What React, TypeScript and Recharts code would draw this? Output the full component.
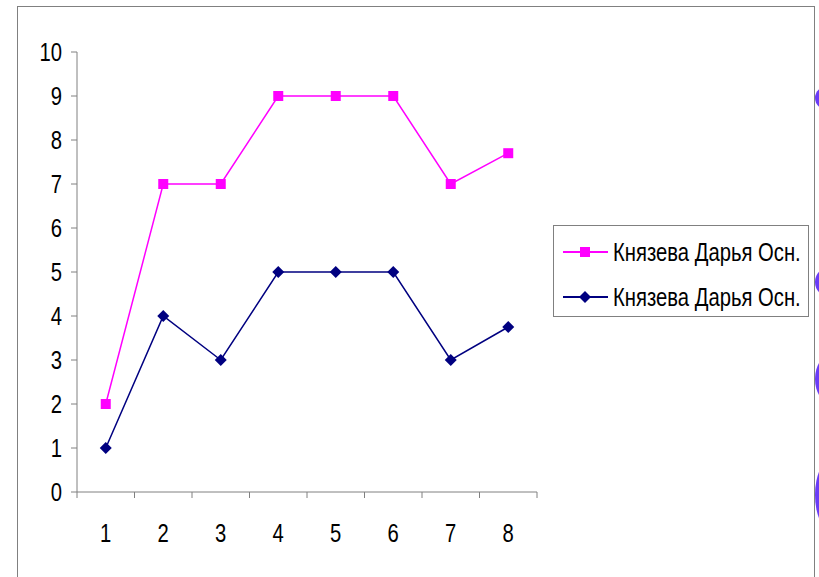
import React from "react";
import { LineChart, Line, XAxis, YAxis } from "recharts";

const categories = [1, 2, 3, 4, 5, 6, 7, 8];
const pinkValues = [2, 7, 7, 9, 9, 9, 7, 7.7];
const navyValues = [1, 4, 3, 5, 5, 5, 3, 3.75];
const yTicks = [0, 1, 2, 3, 4, 5, 6, 7, 8, 9, 10];
const seriesName = "Князева Дарья Осн.";

// tick marks sit between categories, labels at the categories
const xTicks = [...categories.flatMap((c) => [c - 0.5, c]), categories[categories.length - 1] + 0.5];

const data = categories.map((c, i) => ({
  x: c,
  pink: pinkValues[i],
  navy: navyValues[i],
}));

// no Arial Narrow here, so squeeze Liberation Sans horizontally
const FONT = "'Liberation Sans', Arial, sans-serif";
const FONT_SIZE = 25;
const SQUEEZE = 0.81;
const PINK = "#ff00ff";
const NAVY = "#000080";
const GRID = "#808080";
const DECOR = "#6a3cf8";

function SquareDot(props: any) {
  const { cx, cy } = props;
  if (cx == null || cy == null) return null;
  return <rect x={cx - 5} y={cy - 5} width={10} height={10} fill={PINK} />;
}

function DiamondDot(props: any) {
  const { cx, cy } = props;
  if (cx == null || cy == null) return null;
  return (
    <path
      d={`M${cx},${cy - 6} L${cx + 6},${cy} L${cx},${cy + 6} L${cx - 6},${cy} Z`}
      fill={NAVY}
    />
  );
}

function XTick(props: any) {
  const { x, y, payload } = props;
  const v = payload.value;
  if (!Number.isInteger(v)) {
    return <line x1={x} y1={y} x2={x} y2={y + 6} stroke={GRID} strokeWidth={1} />;
  }
  return (
    <text
      transform={`translate(${x},${y + 50}) scale(${SQUEEZE},1)`}
      textAnchor="middle"
      fill="#000"
      fontSize={FONT_SIZE}
      fontFamily={FONT}
    >
      {v}
    </text>
  );
}

function YTick(props: any) {
  const { x, y, payload } = props;
  return (
    <text
      transform={`translate(${x},${y + 9}) scale(${SQUEEZE},1)`}
      textAnchor="end"
      fill="#000"
      fontSize={FONT_SIZE}
      fontFamily={FONT}
    >
      {payload.value}
    </text>
  );
}

function LegendBox() {
  const rows = [
    { color: PINK, marker: "square" },
    { color: NAVY, marker: "diamond" },
  ];
  return (
    <div
      style={{
        position: "absolute",
        left: 553,
        top: 225,
        width: 256,
        height: 92,
        boxSizing: "border-box",
        border: `1px solid ${GRID}`,
        background: "#fff",
        paddingTop: 9,
      }}
    >
      {rows.map((r, i) => (
        <div key={i} style={{ display: "flex", alignItems: "center", height: 34, marginBottom: i === 0 ? 11 : 0 }}>
          <svg width={58} height={20} style={{ flex: "none" }}>
            <line x1={9} y1={10} x2={54} y2={10} stroke={r.color} strokeWidth={2} />
            {r.marker === "square" ? (
              <rect x={26} y={5} width={10} height={10} fill={r.color} />
            ) : (
              <path d="M31,4 L37,10 L31,16 L25,10 Z" fill={r.color} />
            )}
          </svg>
          <span
            style={{
              fontFamily: FONT,
              fontSize: FONT_SIZE,
              color: "#000",
              whiteSpace: "nowrap",
              marginLeft: 1,
              display: "inline-block",
              transform: `scaleX(${SQUEEZE})`,
              transformOrigin: "left center",
            }}
          >
            {seriesName}
          </span>
        </div>
      ))}
    </div>
  );
}

export default function App() {
  return (
    <div
      style={{
        position: "absolute",
        left: 0,
        top: 0,
        width: 819,
        height: 577,
        overflow: "hidden",
        background: "#fff",
      }}
    >
      <div
        style={{
          position: "absolute",
          left: 17,
          top: 6,
          width: 796,
          height: 580,
          borderTop: `1px solid ${GRID}`,
          borderLeft: `1px solid ${GRID}`,
          borderRight: `1px solid ${GRID}`,
        }}
      />
      {/* slide decoration peeking in at the right edge */}
      <svg width={819} height={577} style={{ position: "absolute", left: 0, top: 0 }}>
        <g fill={DECOR}>
          <ellipse cx={828} cy={98} rx={13} ry={12} />
          <ellipse cx={830} cy={282} rx={15} ry={15} />
          <ellipse cx={832} cy={379} rx={17} ry={25} />
          <ellipse cx={834} cy={495} rx={19} ry={38} />
        </g>
      </svg>
      <div style={{ position: "absolute", left: 0, top: 0 }}>
        <LineChart width={819} height={577} data={data} margin={{ top: 52, right: 282, left: 0, bottom: 0 }}>
          <XAxis
            dataKey="x"
            type="number"
            domain={[0.5, 8.5]}
            ticks={xTicks}
            interval={0}
            height={85}
            tickLine={false}
            tickSize={0}
            tickMargin={0}
            tick={<XTick />}
            axisLine={{ stroke: GRID, strokeWidth: 1 }}
          />
          <YAxis
            type="number"
            domain={[0, 10]}
            ticks={yTicks}
            interval={0}
            width={77}
            tickSize={6}
            tickMargin={9}
            tickLine={{ stroke: GRID }}
            axisLine={{ stroke: GRID, strokeWidth: 1 }}
            tick={<YTick />}
          />
          <Line
            type="linear"
            dataKey="pink"
            name={seriesName}
            stroke={PINK}
            strokeWidth={1.5}
            dot={<SquareDot />}
            activeDot={false}
            isAnimationActive={false}
          />
          <Line
            type="linear"
            dataKey="navy"
            name={seriesName}
            stroke={NAVY}
            strokeWidth={1.5}
            dot={<DiamondDot />}
            activeDot={false}
            isAnimationActive={false}
          />
        </LineChart>
      </div>
      <LegendBox />
    </div>
  );
}
